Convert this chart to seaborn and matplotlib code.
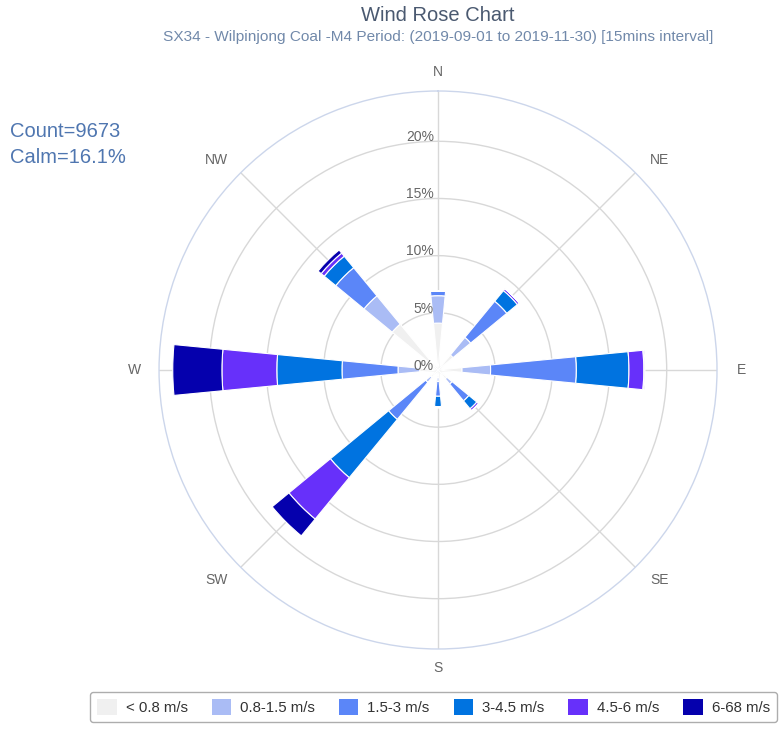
import numpy as np
import seaborn as sns
import matplotlib
matplotlib.use('Agg')
import matplotlib.pyplot as plt
from matplotlib.patches import Patch

# wind rose values (% of time)
directions = ['N', 'NE', 'E', 'SE', 'S', 'SW', 'W', 'NW']
speed_bins = ['< 0.8 m/s', '0.8-1.5 m/s', '1.5-3 m/s', '3-4.5 m/s', '4.5-6 m/s', '6-68 m/s']
bin_colors = ['#f0f0f0', '#aabcf5', '#5b86f8', '#0073e0', '#6730fa', '#0500ad']

lt_0_8 = [4.1, 1.7, 2.1, 1.0, 0.6, 0.8, 1.6, 5.2]
s_0_8_1_5 = [2.4, 2.0, 2.5, 0.6, 0.4, 0.6, 1.9, 3.2]
s_1_5_3 = [0.4, 4.1, 7.5, 1.9, 1.3, 4.2, 4.9, 3.2]
s_3_4_5 = [0.0, 1.2, 4.6, 0.9, 0.9, 6.6, 5.7, 1.3]
s_4_5_6 = [0.0, 0.2, 1.3, 0.2, 0.1, 4.7, 4.8, 0.35]
s_6_68 = [0.0, 0.0, 0.1, 0.0, 0.0, 1.9, 4.3, 0.35]

radial_ticks = [0, 5, 10, 15, 20]
count = 9673
calm = 16.1

sns.set_theme(style='white')
plt.rcParams['font.family'] = ['Liberation Sans', 'DejaVu Sans']

fig = plt.figure(figsize=(7.81, 7.31), dpi=100)
ax = fig.add_axes([0.2036, 0.1122, 0.7145, 0.7633], projection='polar')
ax.set_theta_zero_location('N')
ax.set_theta_direction(-1)

theta = np.deg2rad(np.arange(len(directions)) * 45)
width = np.deg2rad(11)
series = [lt_0_8, s_0_8_1_5, s_1_5_3, s_3_4_5, s_4_5_6, s_6_68]
bottom = np.zeros(len(directions))
for vals, col in zip(series, bin_colors):
    vals = np.array(vals)
    ax.bar(theta, vals, width=width, bottom=bottom, color=col,
           edgecolor='white', linewidth=0.8, zorder=3)
    bottom += vals

rmax = 24.4
ax.set_ylim(0, rmax)
ax.set_yticks(radial_ticks[1:])
ax.set_yticklabels([])
ax.set_xticks(theta)
ax.set_xticklabels([])
ax.grid(True, color='#d8d8d8', linewidth=1)
ax.spines['polar'].set_color('#ccd6eb')
ax.spines['polar'].set_linewidth(1)

# direction labels just outside the rim
for i, (th, name) in enumerate(zip(theta, directions)):
    s, c = np.round(np.sin(th), 3), np.round(np.cos(th), 3)
    ox = np.sign(s) * 17.5
    oy = np.sign(c) * (14 if i % 2 == 0 else 9.5)
    ax.annotate(name, xy=(th, rmax), xytext=(ox, oy), textcoords='offset points',
                ha='center', va='center', fontsize=10, color='#666666',
                annotation_clip=False)

for t in radial_ticks:
    ax.annotate(f'{t}%', xy=(0, t), xytext=(-3, -2), textcoords='offset points',
                ha='right', va='bottom', fontsize=10, color='#666666', zorder=4)

fig.text(0.561, 0.979, 'Wind Rose Chart', ha='center', va='center',
         fontsize=14.5, color='#4a5970')
fig.text(0.561, 0.950, 'SX34 - Wilpinjong Coal -M4 Period: (2019-09-01 to 2019-11-30) [15mins interval]',
         ha='center', va='center', fontsize=11.1, color='#7189aa')

fig.text(0.013, 0.820, f'Count={count}', ha='left', va='center', fontsize=14.5, color='#4f76b0')
fig.text(0.013, 0.785, f'Calm={calm}%', ha='left', va='center', fontsize=14.5, color='#4f76b0')

handles = [Patch(facecolor=c, edgecolor='none') for c in bin_colors]
leg = fig.legend(handles, speed_bins, loc='lower left', bbox_to_anchor=(0.106, 0.002),
                 ncol=6, frameon=True, fontsize=10.8, handlelength=1.3, handleheight=1.3,
                 columnspacing=1.6, handletextpad=0.6, borderpad=0.45)
leg.get_frame().set_edgecolor('#999999')
leg.get_frame().set_linewidth(1)
for txt in leg.get_texts():
    txt.set_color('#333333')

fig.savefig('out.png', dpi=100)
